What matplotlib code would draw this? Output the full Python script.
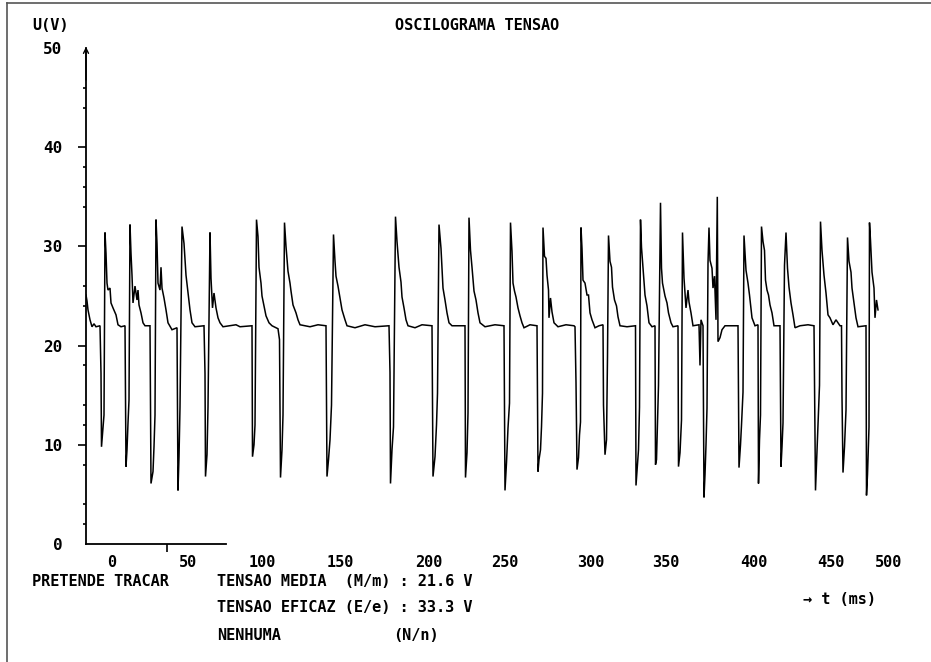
#!/usr/bin/env python3
"""Voltage oscillogram (OSCILOGRAMA TENSAO) redrawn from a DOS screen capture."""

import matplotlib

matplotlib.use("Agg")
import matplotlib.pyplot as plt
from matplotlib.lines import Line2D

# trace vertices: sample index along the time axis and voltage (V)
SAMPLE = [
    0, 1, 2, 4, 6, 8, 10, 14, 15, 15.5, 17, 18, 19, 20, 21, 22, 24, 25, 27, 30, 32, 35, 39,
    40, 41, 42, 43, 44, 45, 46, 47, 49, 51, 52, 53, 55, 57, 59, 64,
    65, 67, 68, 69, 70, 71, 72, 74, 75, 76, 78, 80, 82, 86, 91,
    92, 93, 94, 96, 98, 100, 102, 104, 106, 109, 118,
    119, 119.5, 121, 122, 124, 125, 126.5, 128, 130, 132, 134, 137, 150, 154, 166,
    166.5, 168, 169, 170.5, 172, 173, 175, 176, 178, 180, 183, 186, 192, 193.5,
    194.5, 196, 197, 198.5, 200, 202, 204, 205, 207, 210, 212, 214, 224, 232, 240,
    241, 242.5, 244, 245.5, 247.5, 249, 250, 252, 254, 256, 259, 261, 269, 279, 289, 303,
    304, 304.5, 306, 307.5, 309.5, 311, 313, 315, 316, 318, 320, 322, 329, 336, 346,
    347, 349, 350.5, 351.5, 353, 355, 357, 359, 361, 363, 366, 379,
    379.5, 381, 382, 383, 384.5, 386, 388, 390, 392, 394, 399, 409, 418,
    419, 420.5, 422, 423.5, 424.5, 426, 427, 428.5, 430, 432, 434, 436, 438, 444, 451,
    452, 453, 454.5, 455.5, 456.5, 457, 458.5, 460, 461, 462.5, 463, 464.5, 466, 468, 472, 480, 488,
    489, 490, 491, 492.5, 493.5, 494.5, 495, 496, 497, 499, 501, 502.5, 504, 506, 509, 513, 517,
    517.5, 519, 520.5, 521.5, 522.5, 524, 525.5, 526.5, 528.5, 530.5, 532, 534, 541, 549.5,
    550, 551.5, 552.5, 553.5, 554.5, 555.5, 557, 559, 561, 563, 566, 569,
    569.5, 570.5, 571.5, 572.5, 574.5, 575.5, 576.5, 579, 581, 582.5, 585, 587, 592,
    592.5, 594, 595.5, 596.5, 598, 600, 602, 603, 605, 607, 613,
    614, 615, 617, 618, 619, 620, 621, 622, 623, 624, 626, 627, 628.5, 630, 631.3, 632, 634, 636, 639, 652,
    653, 654.5, 655.5, 657, 658, 660, 662, 663.5, 666, 669, 672,
    672.5, 673.5, 674.5, 675.5, 677, 678.5, 679.5, 681, 682.5, 684, 686, 688, 694,
    695, 696, 697, 698.5, 700, 701.5, 703, 705, 707, 709, 714, 722, 728,
    729.5, 730.5, 731.5, 732.5, 733.5, 734.5, 736, 738, 740, 742, 744, 747, 750, 754, 755.5,
    756, 757, 758.5, 760, 761.5, 763, 765, 766, 768, 770, 772, 780,
    780.5, 781.5, 782.5, 783, 783.5, 784.5, 786, 788, 789, 790.5, 792,
]
VOLTAGE = [
    25.1, 24.5, 23.6, 22.6, 21.9, 22.2, 21.9, 22.0, 17.2, 9.8, 11.7, 13.0, 31.4, 29.3, 26.3, 25.6, 25.8, 24.3, 23.8, 23.1, 22.1, 21.9, 22.0,
    7.8, 9.5, 12.2, 14.5, 32.2, 29.3, 27.1, 24.3, 26.0, 24.6, 25.6, 24.1, 23.3, 22.3, 22.0, 22.0,
    6.1, 7.3, 9.8, 13.0, 32.7, 30.3, 26.3, 25.6, 27.9, 25.8, 24.8, 23.6, 22.3, 21.6, 21.8,
    5.4, 8.8, 13.8, 32.0, 30.3, 27.1, 25.3, 23.6, 22.3, 21.9, 22.0,
    17.2, 6.8, 9.0, 13.8, 31.4, 26.8, 23.8, 25.3, 23.8, 22.8, 22.3, 21.9, 22.1, 21.9, 22.0,
    8.8, 10.0, 12.0, 32.7, 31.0, 27.9, 26.3, 25.0, 24.0, 23.0, 22.3, 22.0, 21.7, 20.6,
    6.7, 9.5, 13.0, 32.4, 30.0, 27.5, 26.3, 25.5, 24.1, 23.3, 22.6, 22.1, 21.9, 22.1, 22.0,
    6.8, 8.5, 10.5, 14.0, 31.2, 28.5, 27.0, 26.0, 24.8, 23.6, 22.6, 22.0, 21.8, 22.1, 21.9, 22.0,
    17.3, 6.1, 9.5, 11.8, 33.0, 30.5, 27.9, 26.4, 24.9, 23.8, 22.6, 22.0, 21.8, 22.1, 22.0,
    6.8, 8.8, 12.0, 15.2, 32.2, 29.8, 25.8, 24.6, 23.3, 22.3, 22.0, 22.0,
    6.7, 9.2, 13.2, 32.9, 29.6, 27.9, 25.5, 24.6, 23.3, 22.3, 21.9, 22.1, 22.0,
    5.4, 8.2, 11.7, 14.2, 32.4, 29.5, 26.3, 25.5, 24.9, 23.8, 23.0, 22.3, 21.8, 22.1, 22.0,
    7.3, 8.5, 9.5, 11.8, 15.2, 31.9, 29.0, 28.8, 27.1, 25.6, 22.8, 24.8, 23.4, 22.3, 21.9, 22.1, 22.0,
    21.9, 16.3, 7.5, 8.7, 11.0, 12.3, 31.9, 29.8, 26.6, 26.3, 25.1, 25.1, 23.3, 22.6, 21.8, 22.0, 22.1,
    14.0, 9.0, 10.5, 18.9, 31.1, 28.5, 27.9, 25.9, 24.6, 24.0, 22.9, 22.0, 21.9, 22.0,
    5.9, 8.0, 9.5, 13.8, 32.7, 29.9, 27.8, 25.1, 24.0, 22.3, 21.9, 22.0,
    8.0, 8.5, 12.2, 16.0, 34.4, 27.8, 26.3, 25.0, 24.3, 23.3, 22.3, 21.9, 22.0,
    7.8, 9.2, 12.5, 31.4, 26.8, 23.8, 25.6, 24.4, 23.3, 22.0, 22.1,
    18.0, 22.6, 22.0, 4.7, 7.0, 10.0, 13.7, 28.3, 31.9, 28.6, 27.8, 25.8, 27.0, 22.6, 35.0, 20.4, 20.8, 21.6, 22.0, 22.0,
    7.7, 10.0, 12.0, 15.3, 31.1, 27.6, 26.3, 25.1, 22.8, 22.0, 22.1,
    6.1, 10.5, 13.0, 32.0, 30.5, 29.6, 26.6, 25.6, 25.1, 24.1, 23.3, 22.0, 22.0,
    7.8, 9.8, 12.2, 28.1, 31.4, 27.8, 25.9, 24.3, 23.1, 21.8, 22.0, 22.1, 22.0,
    5.4, 8.0, 10.7, 13.0, 16.0, 32.5, 29.6, 27.1, 25.3, 23.1, 22.8, 22.1, 22.6, 22.0, 22.0,
    14.8, 7.2, 9.8, 13.5, 30.9, 28.5, 27.4, 25.8, 24.3, 22.8, 21.9, 22.0,
    4.9, 7.0, 10.0, 11.8, 32.4, 30.6, 27.4, 25.8, 22.8, 24.6, 23.6,
]

Y_TICKS = [0, 10, 20, 30, 40, 50]
Y_MINOR = [2, 4, 8, 12, 14, 18, 24, 26, 34, 36, 38, 44, 46]
X_LABELS = ["0", "50", "100", "150", "200", "250", "300", "350", "400", "450", "500"]
X_LABEL_AT = [26, 102, 176, 254, 343, 419, 505, 580, 668, 745, 803]

MONO = "DejaVu Sans Mono"
W, H = 931, 662


def fx(px):
    return px / W


def fy(py):
    return 1 - py / H


def main():
    fig = plt.figure(figsize=(W / 100, H / 100), dpi=100)
    fig.patch.set_facecolor("white")

    # screen frame (top and left edges only)
    fig.add_artist(Line2D([fx(7), 1], [fy(3), fy(3)], color="#555555", lw=1.2))
    fig.add_artist(Line2D([fx(7), fx(7)], [0, fy(3)], color="#555555", lw=1.2))

    ax = fig.add_axes([fx(86), fy(544), fx(900) - fx(86), fy(48) - fy(544)])
    ax.set_xlim(0, 814)
    ax.set_ylim(0, 50)
    ax.patch.set_alpha(0)
    for side in ("top", "right"):
        ax.spines[side].set_visible(False)
    ax.spines["left"].set_linewidth(1.3)
    ax.spines["bottom"].set_linewidth(1.3)
    ax.spines["bottom"].set_bounds(0, 140)

    ax.plot(SAMPLE, VOLTAGE, color="black", lw=1.1, solid_joinstyle="miter")

    ax.annotate("", xy=(0, 50.4), xytext=(0, 46.5),
                arrowprops=dict(arrowstyle="->", lw=1.0, color="black", mutation_scale=9),
                annotation_clip=False)

    ax.set_yticks(Y_TICKS)
    ax.set_yticklabels([str(v) for v in Y_TICKS], fontfamily=MONO, fontweight="bold", fontsize=11.5)
    ax.set_yticks(Y_MINOR, minor=True)
    ax.tick_params(axis="y", which="major", length=6, width=1.2, pad=11, direction="out")
    ax.tick_params(axis="y", which="minor", length=2.5, width=1.2, direction="out")
    ticks = ax.yaxis.get_major_ticks()
    ticks[0].tick1line.set_visible(False)
    ticks[-1].tick1line.set_visible(False)

    ax.set_xticks(X_LABEL_AT)
    ax.set_xticklabels(X_LABELS, fontfamily=MONO, fontweight="bold", fontsize=11)
    ax.set_xticks([81], minor=True)
    ax.tick_params(axis="x", which="major", length=0, pad=8)
    ax.tick_params(axis="x", which="minor", length=6, width=1.2, direction="out")

    txt = dict(fontfamily=MONO, fontweight="bold", fontsize=11, va="center")
    fig.text(fx(32), fy(25), "U(V)", ha="left", **txt)
    fig.text(fx(477), fy(26), "OSCILOGRAMA TENSAO", ha="center", **txt)
    fig.text(fx(32), fy(581), "PRETENDE TRACAR", ha="left", **txt)
    fig.text(fx(217), fy(581), "TENSAO MEDIA  (M/m) : 21.6 V", ha="left", **txt)
    fig.text(fx(217), fy(608), "TENSAO EFICAZ (E/e) : 33.3 V", ha="left", **txt)
    fig.text(fx(217), fy(635), "NENHUMA", ha="left", **txt)
    fig.text(fx(393), fy(635), "(N/n)", ha="left", **txt)
    fig.text(fx(803), fy(600), "\u2192 t (ms)", ha="left", **txt)

    fig.savefig("out.png", dpi=100, facecolor="white")
    plt.close(fig)


if __name__ == "__main__":
    main()
